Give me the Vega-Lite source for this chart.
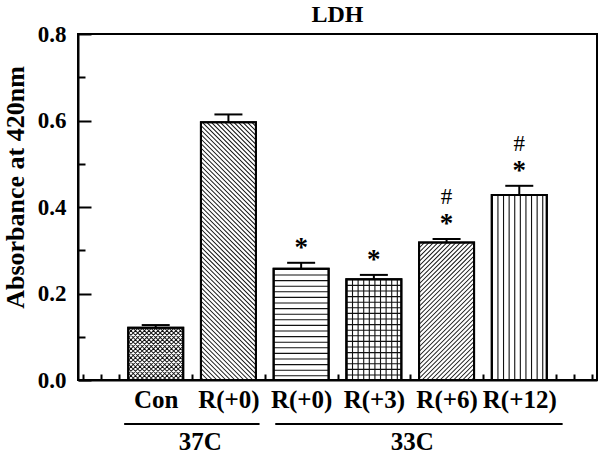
{
  "$schema": "https://vega.github.io/schema/vega-lite/v6.json",
  "width": 519,
  "height": 346,
  "autosize": {"type": "none"},
  "padding": {"left": 78, "top": 34, "right": 3, "bottom": 75},
  "background": "white",
  "config": {
    "view": {"stroke": "black", "strokeWidth": 2},
    "font": "Liberation Serif"
  },
  "title": {
    "text": "LDH",
    "font": "Liberation Serif",
    "fontSize": 24,
    "fontWeight": "bold",
    "color": "black",
    "anchor": "middle",
    "frame": "group",
    "offset": -4
  },
  "datasets": {
    "bars": [
      {"id": "Con", "group": "37C", "pos": 1, "mean": 0.121, "upper": 0.127, "star": "", "hash": ""},
      {"id": "R37_0", "group": "37C", "pos": 2, "mean": 0.596, "upper": 0.614, "star": "", "hash": ""},
      {"id": "R33_0", "group": "33C", "pos": 3, "mean": 0.257, "upper": 0.271, "star": "*", "hash": ""},
      {"id": "R33_3", "group": "33C", "pos": 4, "mean": 0.233, "upper": 0.243, "star": "*", "hash": ""},
      {"id": "R33_6", "group": "33C", "pos": 5, "mean": 0.318, "upper": 0.326, "star": "*", "hash": "#"},
      {"id": "R33_12", "group": "33C", "pos": 6, "mean": 0.428, "upper": 0.449, "star": "*", "hash": "#"}
    ],
    "brackets": [
      {"group": "37C", "pos": 0.566, "end": 2.428},
      {"group": "33C", "pos": 2.644, "end": 6.596}
    ],
    "grouplabels": [
      {"group": "37C", "pos": 1.612},
      {"group": "33C", "pos": 4.528}
    ]
  },
  "data": {"name": "bars"},
  "encoding": {
    "x": {
      "field": "pos",
      "type": "quantitative",
      "scale": {"domain": [0, 7], "nice": false, "zero": false},
      "axis": {
        "title": null,
        "grid": false,
        "values": [0, 0.25, 0.5, 0.75, 1, 1.25, 1.5, 1.75, 2, 2.25, 2.5, 2.75, 3, 3.25, 3.5, 3.75, 4, 4.25, 4.5, 4.75, 5, 5.25, 5.5, 5.75, 6, 6.25, 6.5, 6.75, 7],
        "labelExpr": "datum.value == 1 ? 'Con' : datum.value == 2 ? 'R(+0)' : datum.value == 3 ? 'R(+0)' : datum.value == 4 ? 'R(+3)' : datum.value == 5 ? 'R(+6)' : datum.value == 6 ? 'R(+12)' : ''",
        "labelOverlap": false,
        "labelFlush": false,
        "labelFont": "Liberation Serif",
        "labelFontSize": 25,
        "labelFontWeight": "bold",
        "labelColor": "black",
        "labelPadding": 13.5,
        "tickSize": -6,
        "tickWidth": 2,
        "tickColor": "black",
        "domainColor": "black",
        "domainWidth": 2
      }
    }
  },
  "layer": [
    {
      "mark": {"type": "bar", "fill": "white", "stroke": "black", "strokeWidth": 2, "size": 55},
      "encoding": {
        "y": {
          "field": "mean",
          "type": "quantitative",
          "scale": {"domain": [0, 0.8], "nice": false},
          "axis": {
            "title": "Absorbance at 420nm",
            "titleFont": "Liberation Serif",
            "titleFontSize": 26,
            "titleFontWeight": "bold",
            "titleColor": "black",
            "titleAngle": -90,
            "titleAlign": "center",
            "titleBaseline": "alphabetic",
            "titleX": -55,
            "titleY": 153,
            "grid": false,
            "values": [0, 0.05, 0.1, 0.15, 0.2, 0.25, 0.3, 0.35, 0.4, 0.45, 0.5, 0.55, 0.6, 0.65, 0.7, 0.75, 0.8],
            "labelExpr": "indexof([0, 0.2, 0.4, 0.6, 0.8], datum.value) >= 0 ? format(datum.value, '.1f') : ''",
            "labelOverlap": false,
            "labelFlush": false,
            "labelFont": "Liberation Serif",
            "labelFontSize": 23,
            "labelFontWeight": "bold",
            "labelColor": "black",
            "labelPadding": 25,
            "tickSize": {"condition": {"test": "indexof([0, 0.2, 0.4, 0.6, 0.8], datum.value) >= 0", "value": -13}, "value": -7},
            "tickWidth": 2,
            "tickColor": "black",
            "domainColor": "black",
            "domainWidth": 2
          }
        }
      }
    },
    {
      "transform": [{"filter": "datum.id == 'R33_0' || datum.id == 'R33_3'"}],
      "mark": {"type": "rule", "color": "#111", "strokeWidth": 55, "strokeDash": [1.1, 4.5]},
      "encoding": {
        "y": {"field": "mean", "type": "quantitative"},
        "y2": {"datum": 0}
      }
    },
    {
      "transform": [{"filter": "datum.id == 'R33_3' || datum.id == 'R33_12'"}],
      "mark": {"type": "rule", "color": "#111", "strokeDash": [1.1, 4.5], "xOffset": -27.5, "x2Offset": 27.5, "clip": true},
      "encoding": {
        "x2": {"field": "pos"},
        "y": {"datum": 0},
        "size": {"field": "mean", "type": "quantitative", "scale": {"domain": [0, 0.8], "range": [0, 692], "zero": true}, "legend": null}
      }
    },
    {
      "transform": [{"filter": "datum.id == 'Con' || datum.id == 'R37_0' || datum.id == 'R33_6'"}],
      "mark": {"type": "point", "filled": false, "size": 4, "opacity": 1, "strokeWidth": 1.05, "color": "#111"},
      "encoding": {
        "y": {"datum": 0},
        "shape": {
          "field": "id",
          "type": "nominal",
          "legend": null,
          "scale": {
            "domain": ["Con", "R37_0", "R33_6"],
            "range": [
              "M-27.5,-2.5l2.5,2.5M-27.5,-7l7,7M-27.5,-11.5l11.5,11.5M-27.5,-16l16,16M-27.5,-20.5l20.5,20.5M-27.5,-25l25,25M-27.5,-29.5l29.5,29.5M-27.5,-34l34,34M-27.5,-38.5l38.5,38.5M-27.5,-43l43,43M-27.5,-47.5l47.5,47.5M-27.5,-52l52,52M-23.3,-52.3l50.8,50.8M-18.8,-52.3l46.3,46.3M-14.3,-52.3l41.8,41.8M-9.8,-52.3l37.3,37.3M-5.3,-52.3l32.8,32.8M-0.8,-52.3l28.3,28.3M3.7,-52.3l23.8,23.8M8.2,-52.3l19.3,19.3M12.7,-52.3l14.8,14.8M17.2,-52.3l10.3,10.3M21.7,-52.3l5.8,5.8M26.2,-52.3l1.3,1.3M27.5,-2.5l-2.5,2.5M27.5,-7l-7,7M27.5,-11.5l-11.5,11.5M27.5,-16l-16,16M27.5,-20.5l-20.5,20.5M27.5,-25l-25,25M27.5,-29.5l-29.5,29.5M27.5,-34l-34,34M27.5,-38.5l-38.5,38.5M27.5,-43l-43,43M27.5,-47.5l-47.5,47.5M27.5,-52l-52,52M23.3,-52.3l-50.8,50.8M18.8,-52.3l-46.3,46.3M14.3,-52.3l-41.8,41.8M9.8,-52.3l-37.3,37.3M5.3,-52.3l-32.8,32.8M0.8,-52.3l-28.3,28.3M-3.7,-52.3l-23.8,23.8M-8.2,-52.3l-19.3,19.3M-12.7,-52.3l-14.8,14.8M-17.2,-52.3l-10.3,10.3M-21.7,-52.3l-5.8,5.8M-26.2,-52.3l-1.3,1.3",
              "M-27.5,-2.5l2.5,2.5M-27.5,-7l7,7M-27.5,-11.5l11.5,11.5M-27.5,-16l16,16M-27.5,-20.5l20.5,20.5M-27.5,-25l25,25M-27.5,-29.5l29.5,29.5M-27.5,-34l34,34M-27.5,-38.5l38.5,38.5M-27.5,-43l43,43M-27.5,-47.5l47.5,47.5M-27.5,-52l52,52M-27.5,-56.5l55,55M-27.5,-61l55,55M-27.5,-65.5l55,55M-27.5,-70l55,55M-27.5,-74.5l55,55M-27.5,-79l55,55M-27.5,-83.5l55,55M-27.5,-88l55,55M-27.5,-92.5l55,55M-27.5,-97l55,55M-27.5,-101.5l55,55M-27.5,-106l55,55M-27.5,-110.5l55,55M-27.5,-115l55,55M-27.5,-119.5l55,55M-27.5,-124l55,55M-27.5,-128.5l55,55M-27.5,-133l55,55M-27.5,-137.5l55,55M-27.5,-142l55,55M-27.5,-146.5l55,55M-27.5,-151l55,55M-27.5,-155.5l55,55M-27.5,-160l55,55M-27.5,-164.5l55,55M-27.5,-169l55,55M-27.5,-173.5l55,55M-27.5,-178l55,55M-27.5,-182.5l55,55M-27.5,-187l55,55M-27.5,-191.5l55,55M-27.5,-196l55,55M-27.5,-200.5l55,55M-27.5,-205l55,55M-27.5,-209.5l55,55M-27.5,-214l55,55M-27.5,-218.5l55,55M-27.5,-223l55,55M-27.5,-227.5l55,55M-27.5,-232l55,55M-27.5,-236.5l55,55M-27.5,-241l55,55M-27.5,-245.5l55,55M-27.5,-250l55,55M-27.5,-254.5l55,55M-26.3,-257.8l53.8,53.8M-21.8,-257.8l49.3,49.3M-17.3,-257.8l44.8,44.8M-12.8,-257.8l40.3,40.3M-8.3,-257.8l35.8,35.8M-3.8,-257.8l31.3,31.3M0.7,-257.8l26.8,26.8M5.2,-257.8l22.3,22.3M9.7,-257.8l17.8,17.8M14.2,-257.8l13.3,13.3M18.7,-257.8l8.8,8.8M23.2,-257.8l4.3,4.3",
              "M27.5,-2.5l-2.5,2.5M27.5,-7l-7,7M27.5,-11.5l-11.5,11.5M27.5,-16l-16,16M27.5,-20.5l-20.5,20.5M27.5,-25l-25,25M27.5,-29.5l-29.5,29.5M27.5,-34l-34,34M27.5,-38.5l-38.5,38.5M27.5,-43l-43,43M27.5,-47.5l-47.5,47.5M27.5,-52l-52,52M27.5,-56.5l-55,55M27.5,-61l-55,55M27.5,-65.5l-55,55M27.5,-70l-55,55M27.5,-74.5l-55,55M27.5,-79l-55,55M27.5,-83.5l-55,55M27.5,-88l-55,55M27.5,-92.5l-55,55M27.5,-97l-55,55M27.5,-101.5l-55,55M27.5,-106l-55,55M27.5,-110.5l-55,55M27.5,-115l-55,55M27.5,-119.5l-55,55M27.5,-124l-55,55M27.5,-128.5l-55,55M27.5,-133l-55,55M27.5,-137.5l-55,55M23,-137.5l-50.5,50.5M18.5,-137.5l-46,46M14,-137.5l-41.5,41.5M9.5,-137.5l-37,37M5,-137.5l-32.5,32.5M0.5,-137.5l-28,28M-4,-137.5l-23.5,23.5M-8.5,-137.5l-19,19M-13,-137.5l-14.5,14.5M-17.5,-137.5l-10,10M-22,-137.5l-5.5,5.5M-26.5,-137.5l-1,1"
            ]
          }
        }
      }
    },
    {
      "mark": {"type": "bar", "fill": "white", "fillOpacity": 0, "stroke": "black", "strokeWidth": 2, "size": 55},
      "encoding": {"y": {"field": "mean", "type": "quantitative"}}
    },
    {
      "mark": {"type": "rule", "color": "black", "strokeWidth": 2},
      "encoding": {
        "y": {"field": "mean", "type": "quantitative"},
        "y2": {"field": "upper"}
      }
    },
    {
      "mark": {"type": "rule", "color": "black", "strokeWidth": 2, "xOffset": -14, "x2Offset": 14},
      "encoding": {
        "x2": {"field": "pos"},
        "y": {"field": "upper", "type": "quantitative"}
      }
    },
    {
      "transform": [{"filter": "datum.star != ''"}],
      "mark": {"type": "text", "font": "Liberation Serif", "fontSize": 27, "fontWeight": "bold", "color": "black", "baseline": "alphabetic", "align": "center", "dy": -7},
      "encoding": {
        "y": {"field": "upper", "type": "quantitative"},
        "text": {"field": "star"}
      }
    },
    {
      "transform": [{"filter": "datum.hash != ''"}],
      "mark": {"type": "text", "font": "Liberation Serif", "fontSize": 23, "color": "black", "baseline": "alphabetic", "align": "center", "dy": -35},
      "encoding": {
        "y": {"field": "upper", "type": "quantitative"},
        "text": {"field": "hash"}
      }
    },
    {
      "data": {"name": "brackets"},
      "mark": {"type": "rule", "color": "black", "strokeWidth": 2},
      "encoding": {
        "x2": {"field": "end"},
        "y": {"datum": -0.1017}
      }
    },
    {
      "data": {"name": "grouplabels"},
      "mark": {"type": "text", "font": "Liberation Serif", "fontSize": 25, "fontWeight": "bold", "color": "black", "baseline": "alphabetic", "align": "center"},
      "encoding": {
        "y": {"datum": -0.1618},
        "text": {"field": "group"}
      }
    }
  ]
}
